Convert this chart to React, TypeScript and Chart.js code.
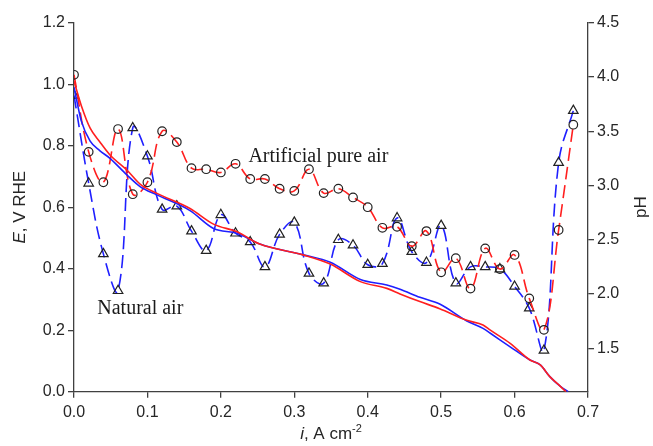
import React, { useEffect, useRef } from "react";
import { Chart, registerables } from "chart.js";
Chart.register(...registerables);

// ---------- data ----------
const I_TICKS = [0, 0.1, 0.2, 0.3, 0.4, 0.5, 0.6, 0.7];
const E_TICKS = [0, 0.2, 0.4, 0.6, 0.8, 1.0, 1.2];
const PH_TICKS = [1.5, 2.0, 2.5, 3.0, 3.5, 4.0, 4.5];

// Polarization curves (E vs i), artificial pure air (red) and natural air (blue)
const I_ART = [0, 0.01, 0.022, 0.035, 0.049, 0.072, 0.09, 0.113, 0.158, 0.19, 0.222, 0.253, 0.312, 0.349, 0.39, 0.426, 0.444, 0.471, 0.498, 0.535, 0.557, 0.567, 0.594, 0.621, 0.635, 0.648, 0.662, 0.67];
const E_ART = [1.01, 0.93, 0.857, 0.813, 0.77, 0.721, 0.675, 0.645, 0.596, 0.545, 0.52, 0.48, 0.445, 0.415, 0.358, 0.336, 0.318, 0.293, 0.27, 0.232, 0.217, 0.2, 0.157, 0.103, 0.087, 0.049, 0.018, 0];
const I_NAT = [0, 0.01, 0.022, 0.035, 0.049, 0.072, 0.09, 0.113, 0.158, 0.19, 0.222, 0.253, 0.312, 0.349, 0.39, 0.426, 0.444, 0.471, 0.498, 0.535, 0.557, 0.567, 0.594, 0.621, 0.635, 0.648, 0.662, 0.673];
const E_NAT = [0.99, 0.88, 0.815, 0.784, 0.759, 0.705, 0.667, 0.64, 0.589, 0.531, 0.515, 0.48, 0.445, 0.421, 0.365, 0.347, 0.333, 0.307, 0.285, 0.23, 0.206, 0.19, 0.146, 0.103, 0.087, 0.049, 0.018, 0];

// pH vs i
const I_PH = [0, 0.02, 0.04, 0.06, 0.08, 0.1, 0.12, 0.14, 0.16, 0.18, 0.2, 0.22, 0.24, 0.26, 0.28, 0.3, 0.32, 0.34, 0.36, 0.38, 0.4, 0.42, 0.44, 0.46, 0.48, 0.5, 0.52, 0.54, 0.56, 0.58, 0.6, 0.62, 0.64, 0.66, 0.68];
const PH_ART = [4.02, 3.31, 3.03, 3.52, 2.92, 3.03, 3.5, 3.4, 3.16, 3.15, 3.12, 3.2, 3.06, 3.06, 2.97, 2.95, 3.15, 2.93, 2.97, 2.89, 2.8, 2.61, 2.62, 2.44, 2.58, 2.2, 2.33, 2.05, 2.42, 2.23, 2.36, 1.96, 1.67, 2.59, 3.56];
const PH_NAT = [3.83, 3.02, 2.37, 2.03, 3.53, 3.27, 2.78, 2.81, 2.58, 2.4, 2.73, 2.56, 2.48, 2.25, 2.55, 2.66, 2.19, 2.1, 2.5, 2.45, 2.27, 2.28, 2.7, 2.39, 2.29, 2.63, 2.1, 2.25, 2.25, 2.23, 2.07, 1.87, 1.48, 3.21, 3.69];

const LABEL_ART = "Artificial pure air";
const LABEL_NAT = "Natural air";
const LABEL_ART_POS = { i: 0.2375, e: 0.748 };
const LABEL_NAT_POS = { i: 0.0317, e: 0.254 };

// ---------- style ----------
const W = 653;
const H = 446;
const SANS = '"Liberation Sans", Arial, sans-serif';
const SERIF = '"Liberation Serif", "Times New Roman", serif';
const TEXT = "#262626";
const AXIS = "#404040";
const RED = "#ff1f1f";
const BLUE = "#1f1fff";

type Run = { text: string; font: string; dy?: number };
function drawRuns(ctx: CanvasRenderingContext2D, runs: Run[], x: number, y: number) {
  let total = 0;
  for (const r of runs) {
    ctx.font = r.font;
    total += ctx.measureText(r.text).width;
  }
  let cx = x - total / 2;
  ctx.textAlign = "left";
  for (const r of runs) {
    ctx.font = r.font;
    ctx.fillText(r.text, cx, y + (r.dy || 0));
    cx += ctx.measureText(r.text).width;
  }
}

const textPlugin = {
  id: "texts",
  afterDraw(chart: any) {
    const ctx: CanvasRenderingContext2D = chart.ctx;
    const { top, bottom, left, right } = chart.chartArea;
    const xs = chart.scales.x;
    const ys = chart.scales.y;
    ctx.save();
    ctx.fillStyle = TEXT;
    // left axis title
    ctx.save();
    ctx.translate(20, (top + bottom) / 2);
    ctx.rotate(-Math.PI / 2);
    ctx.textBaseline = "middle";
    drawRuns(ctx, [
      { text: "E", font: `italic 17px ${SANS}` },
      { text: ", V RHE", font: `17px ${SANS}` },
    ], 0, 0);
    ctx.restore();
    // right axis title (reads bottom to top)
    ctx.save();
    ctx.translate(641, (top + bottom) / 2);
    ctx.rotate(-Math.PI / 2);
    ctx.textBaseline = "middle";
    drawRuns(ctx, [{ text: "pH", font: `17px ${SANS}` }], 0, 0);
    ctx.restore();
    // x axis title
    ctx.textBaseline = "alphabetic";
    drawRuns(ctx, [
      { text: "i", font: `italic 17px ${SANS}` },
      { text: ", A cm", font: `17px ${SANS}` },
      { text: "-2", font: `11px ${SANS}`, dy: -7 },
    ], (left + right) / 2, 439);
    // annotations
    ctx.font = `20px ${SERIF}`;
    ctx.textAlign = "left";
    ctx.fillStyle = "#1a1a1a";
    ctx.fillText(LABEL_ART, xs.getPixelForValue(LABEL_ART_POS.i), ys.getPixelForValue(LABEL_ART_POS.e));
    ctx.fillText(LABEL_NAT, xs.getPixelForValue(LABEL_NAT_POS.i), ys.getPixelForValue(LABEL_NAT_POS.e));
    ctx.restore();
  },
};

const tickFont = { family: SANS, size: 16 };
const gridOpts = { drawOnChartArea: false, drawTicks: true, tickLength: 6, color: AXIS, lineWidth: 1.3 };
const borderOpts = { display: true, color: AXIS, width: 1.3 };

export default function App() {
  const ref = useRef<HTMLCanvasElement | null>(null);
  useEffect(() => {
    if (!ref.current) return;
    const chart = new Chart(ref.current, {
      type: "line",
      data: {
        datasets: [
          {
            label: "E artificial",
            data: I_ART.map((x, k) => ({ x, y: E_ART[k] })),
            yAxisID: "y",
            borderColor: RED,
            borderWidth: 1.6,
            pointRadius: 0,
            cubicInterpolationMode: "monotone",
            fill: false,
          },
          {
            label: "E natural",
            data: I_NAT.map((x, k) => ({ x, y: E_NAT[k] })),
            yAxisID: "y",
            borderColor: BLUE,
            borderWidth: 1.6,
            pointRadius: 0,
            cubicInterpolationMode: "monotone",
            fill: false,
          },
          {
            label: "pH artificial",
            data: I_PH.map((x, k) => ({ x, y: PH_ART[k] })),
            yAxisID: "y1",
            borderColor: RED,
            borderWidth: 1.6,
            borderDash: [13, 6],
            tension: 0.4,
            pointStyle: "circle",
            pointRadius: 4.3,
            pointBorderColor: "#222",
            pointBackgroundColor: "rgba(0,0,0,0)",
            pointBorderWidth: 1.2,
            fill: false,
          },
          {
            label: "pH natural",
            data: I_PH.map((x, k) => ({ x, y: PH_NAT[k] })),
            yAxisID: "y1",
            borderColor: BLUE,
            borderWidth: 1.6,
            borderDash: [13, 6],
            tension: 0.4,
            pointStyle: "triangle",
            pointRadius: 5.5,
            pointBorderColor: "#222",
            pointBackgroundColor: "rgba(0,0,0,0)",
            pointBorderWidth: 1.2,
            fill: false,
          },
        ],
      },
      options: {
        responsive: false,
        animation: false,
        layout: { padding: { top: 22.7, left: 0, right: 0, bottom: 0 } },
        plugins: { legend: { display: false }, tooltip: { enabled: false } },
        scales: {
          x: {
            type: "linear",
            min: 0,
            max: 0.7,
            afterBuildTicks: (s: any) => { s.ticks = I_TICKS.map((v) => ({ value: v })); },
            afterFit: (s: any) => { s.height = 54.3; },
            ticks: { font: tickFont, color: TEXT, padding: 5, callback: (v: any) => Number(v).toFixed(1), maxRotation: 0, autoSkip: false },
            grid: gridOpts,
            border: borderOpts,
          },
          y: {
            type: "linear",
            position: "left",
            min: 0,
            max: 1.2,
            afterBuildTicks: (s: any) => { s.ticks = E_TICKS.map((v) => ({ value: v })); },
            afterFit: (s: any) => { s.width = 74; },
            ticks: { font: tickFont, color: TEXT, padding: 3, callback: (v: any) => Number(v).toFixed(1), autoSkip: false },
            grid: gridOpts,
            border: borderOpts,
          },
          y1: {
            type: "linear",
            position: "right",
            min: 1.1,
            max: 4.5,
            afterBuildTicks: (s: any) => { s.ticks = PH_TICKS.map((v) => ({ value: v })); },
            afterFit: (s: any) => { s.width = 65; },
            ticks: { font: tickFont, color: TEXT, padding: 3, callback: (v: any) => Number(v).toFixed(1), autoSkip: false },
            grid: gridOpts,
            border: borderOpts,
          },
        },
      } as any,
      plugins: [textPlugin],
    } as any);
    return () => chart.destroy();
  }, []);
  return (
    <div style={{ position: "fixed", left: 0, top: 0, width: W, height: H, background: "#fff" }}>
      <canvas ref={ref} width={W} height={H} style={{ display: "block", width: W, height: H }} />
    </div>
  );
}
